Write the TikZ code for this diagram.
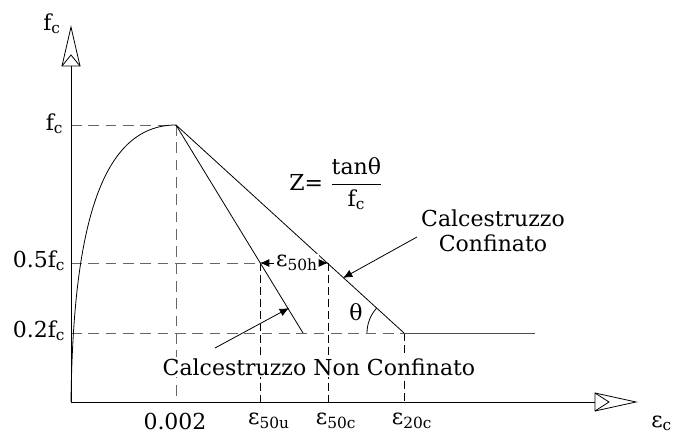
\documentclass[tikz,border=0pt]{standalone}
\usepackage{fontspec}
\setmainfont{DejaVu Serif}
\usepackage{amsmath}
\usetikzlibrary{arrows.meta, positioning}

\tikzset{
  lbl/.style={font=\fontsize{16.5}{19}\selectfont, inner sep=1pt},
  guide/.style={dashed, black!60, dash pattern=on 8pt off 5pt},
  guidek/.style={black, dash pattern=on 6pt off 3pt},
  pointer/.style={-{Latex[length=7pt, width=6pt]}},
}
\newcommand{\sbs}[1]{\textsubscript{#1}}

\begin{document}
\begin{tikzpicture}[x=0.75pt, y=-0.75pt, line width=0.6pt]
  \useasboundingbox (0,0) rectangle (675,434);

  % points of the diagram
  \coordinate (O) at (71,402);
  \coordinate (ytip) at (71,27);
  \coordinate (ybase) at (71,66);
  \coordinate (xtip) at (636,402);
  \coordinate (xbase) at (595,402);
  \coordinate (P) at (176,125);
  \coordinate (U) at (303,333);
  \coordinate (C) at (404,333);
  \coordinate (Cend) at (535,333);
  \coordinate (h50u) at (260,263);
  \coordinate (h50c) at (328,263);

  % guide lines
  \draw[guide] (O |- P) -- (P);
  \draw[guide] (P) -- (P |- O);
  \draw[guide] (O |- h50u) -- (h50u);
  \draw[guide] (O |- C) -- (C);
  \draw[guidek] (h50u) -- (h50u |- O);
  \draw[guidek] (h50c) -- (h50c |- O);
  \draw[guidek] (C) -- (C |- O);

  % axes
  \draw (O) -- (ybase);
  \draw (O) -- (xbase);
  \draw (ytip) -- ++(-9,39) -- ++(18,0) -- cycle;
  \draw (ybase) ++(-9,0) -- ++(9,-11) -- ++(9,11);
  \draw (xtip) -- ++(-41,-9) -- ++(0,18) -- cycle;
  \draw (xbase) ++(0,-9) -- ++(14,9) -- ++(-14,9);

  % curves
  \draw (O) .. controls (73,230) and (100,125) .. (P);
  \draw (P) -- (U);
  \draw (P) -- (C);
  \draw[black!70] (C) -- (Cend);
  \draw (C) ++(-37,0) arc[start angle=180, end angle=222.4, radius=37];

  % labels on the axes
  \node[lbl] (ftitle) at (52,24) {f\sbs{c}};
  \node[lbl, anchor=east] (lfc) at (65,124) {f\sbs{c}};
  \node[lbl, anchor=east] (l05) at (67,261) {0.5f\sbs{c}};
  \node[lbl, anchor=east] (l02) at (67,331) {0.2f\sbs{c}};
  \node[lbl] (t002) at (175,421) {0.002};
  \node[lbl] (te50u) at (269,421) {ε\sbs{50u}};
  \node[lbl] (te50c) at (336,421) {ε\sbs{50c}};
  \node[lbl] (te20c) at (412,421) {ε\sbs{20c}};
  \node[lbl, anchor=south east, inner sep=0.5pt] (tec) at (673,432) {ε\sbs{c}};

  % other labels
  \node[lbl, fill=white] (e50h) at (297,263) {ε\sbs{50h}};
  \draw[pointer] (e50h) -- (h50u);
  \draw[pointer] (e50h) -- (h50c);
  \node[lbl] (zeq) at (336,184) {Z= $\dfrac{\text{tanθ}}{\text{f\sbs{c}}}$};
  \node[lbl] (theta) at (356,312) {θ};
  \node[lbl, align=center] (conf) at (493,231) {Calcestruzzo\\Confinato};
  \node[lbl, fill=white] (nonconf) at (319,367) {Calcestruzzo Non Confinato};
  \coordinate (aconf) at (417,237);
  \coordinate (anon) at (215,348);
  \draw[pointer] (aconf) -- (343,278);
  \draw[pointer] (anon) -- (289,308);
\end{tikzpicture}
\end{document}
